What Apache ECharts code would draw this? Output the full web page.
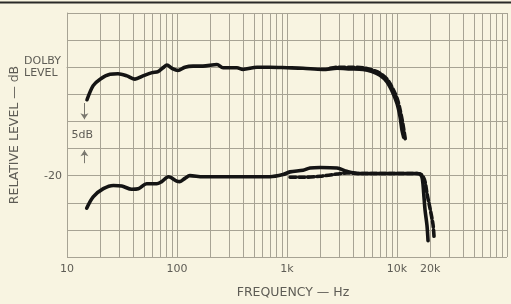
<!DOCTYPE html>
<html><head><meta charset="utf-8">
<script src="https://cdn.jsdelivr.net/npm/echarts@6/dist/echarts.min.js"></script>
<style>html,body{margin:0;padding:0;background:#f8f4e1;}#c{width:511px;height:304px;}</style>
</head><body><div id="c"></div>
<script>
// ---- data (frequency in Hz, level in dB relative to Dolby level) ----
const upperSolidFreq = [15.2,17.3,20,24.6,29.1,35.1,41.5,49.1,59.3,67.2,74.6,81.1,90.1,102,118,140,172,231,262,351,398,534,700,1000,1400,2120,2850,3740,4910,5930,7000,8110,9010,10000,10650,11100,11500];
const upperSolidDb   = [-6.0,-3.4,-2.2,-1.3,-1.2,-1.6,-2.2,-1.6,-1.0,-0.8,-0.1,0.4,-0.2,-0.6,0,0.2,0.2,0.5,-0.1,-0.1,-0.4,0,0,-0.1,-0.2,-0.4,-0.2,-0.3,-0.4,-0.8,-1.5,-2.7,-4.4,-6.7,-9.1,-11.6,-12.9];
const upperDashFreq  = [2460,2850,3740,4910,5930,7000,8110,9010,10000,10650,11340,11900];
const upperDashDb    = [-0.2,0,0,-0.1,-0.5,-1.1,-2.2,-3.7,-5.7,-7.8,-10.6,-13.3];
const lowerSolidFreq = [15.1,17.3,21.4,26.4,31.4,38.8,44.5,53,65.3,72.5,83.9,99.4,106,118,131,172,351,700,920,1065,1400,1620,2000,2850,3510,4610,9200,15200,16200,16870,17220,17600,17980,18740,19150];
const lowerSolidDb   = [-26.0,-23.9,-22.4,-21.8,-21.9,-22.5,-22.4,-21.5,-21.5,-21.1,-20.2,-21.0,-21.1,-20.5,-20.0,-20.2,-20.2,-20.2,-19.8,-19.3,-19.0,-18.6,-18.5,-18.6,-19.2,-19.6,-19.6,-19.6,-19.7,-20.3,-21.5,-24.0,-26.3,-29.2,-32.0];
const lowerDashFreq  = [1065,1400,2000,2850,3510,4610,9200,15200,16870,17980,18740,19950,21250,21700];
const lowerDashDb    = [-20.3,-20.3,-20.1,-19.7,-19.5,-19.6,-19.6,-19.6,-19.9,-21.1,-23.3,-26,-29,-31.2];

const xTickValues = [10,100,1000,10000,20000];
const xTickLabels = ['10','100','1k','10k','20k'];
const yTickValues = [0,-20];
const yTickLabels = ['{d|DOLBY}\n{d|LEVEL}','-20'];

const zip = (a,b) => a.map((v,i) => [v,b[i]]);

const GRID = '#a7a394';
const TXT = '#5e5c55';
const FONT = 'DejaVu Sans';

// minor log grid lines (2..9 in each decade)
const minorLines = [];
[10,100,1000,10000].forEach(d => { for (let k=2;k<=9;k++) minorLines.push({xAxis: d*k}); });

const chart = echarts.init(document.getElementById('c'), null, {renderer:'canvas'});
const curve = (name, data, dashed) => ({
  name, type:'line', data, showSymbol:false, smooth:0.3, z:5,
  lineStyle:{color:'#141414', width:3.6, type: dashed ? [6,3] : 'solid', cap:'round', join:'round'}
});
chart.setOption({
  backgroundColor:'#f8f4e1',
  animation:false,
  grid:{left:67, right:4, top:13, bottom:47, outerBoundsMode:'none', containLabel:false},
  xAxis:{
    type:'log', logBase:10, min:10, max:100000,
    name:'FREQUENCY — Hz', nameLocation:'middle', nameGap:29, nameMoveOverlap:false,
    nameTextStyle:{color:TXT, fontFamily:FONT, fontSize:12.5, padding:[0,0,0,12]},
    axisLine:{show:true, lineStyle:{color:GRID, width:1}},
    axisTick:{show:false},
    axisLabel:{show:false},
    splitLine:{show:true, lineStyle:{color:GRID, width:1}}
  },
  yAxis:{
    type:'value', min:-35, max:10, interval:5,
    name:'RELATIVE LEVEL — dB', nameLocation:'middle', nameRotate:90, nameGap:46, nameMoveOverlap:false,
    nameTextStyle:{color:TXT, fontFamily:FONT, fontSize:12.5, padding:[0,0,0,0]},
    axisLine:{show:true, lineStyle:{color:GRID, width:1}},
    axisTick:{show:false},
    axisLabel:{
      color:TXT, fontFamily:FONT, fontSize:11, margin:5,
      formatter: v => { const i = yTickValues.indexOf(v); return i<0 ? '' : yTickLabels[i]; },
      rich:{d:{width:38, align:'left', color:TXT, fontFamily:FONT, fontSize:11, lineHeight:12}}
    },
    splitLine:{show:true, lineStyle:{color:GRID, width:1}}
  },
  graphic:[{type:'line', shape:{x1:0,y1:2.5,x2:511,y2:2.5}, style:{stroke:'#2a2a28', lineWidth:2}}],
  series:[
    {
      name:'grid', type:'line', data:[[10,-35]], showSymbol:false, silent:true, z:1,
      lineStyle:{opacity:0},
      markLine:{
        silent:true, symbol:['none','none'], animation:false,
        label:{show:false},
        lineStyle:{color:GRID, width:1, type:'solid'},
        data: minorLines
      }
    },
    {
      name:'ticks', type:'line', data:[[10,-35]], showSymbol:false, silent:true, z:1,
      lineStyle:{opacity:0},
      markLine:{
        silent:true, symbol:['none','none'], animation:false,
        lineStyle:{color:'rgba(0,0,0,0)', width:0},
        label:{show:true, position:'start', distance:7, color:TXT, fontFamily:FONT, fontSize:11},
        data: xTickValues.map((v,i) => ({xAxis:v, label:{formatter:xTickLabels[i]}}))
      }
    },
    {
      name:'anno', type:'line', data:[[10,-35]], showSymbol:false, silent:true, z:2,
      lineStyle:{opacity:0},
      markLine:{
        silent:true, symbol:['none','arrow'], symbolSize:6, animation:false,
        label:{show:false},
        itemStyle:{color:'#7a786f'},
        lineStyle:{color:'#7a786f', width:1, type:'solid'},
        data:[
          [{coord:[14.4,-6.6]},{coord:[14.4,-9.6]}],
          [{coord:[14.4,-17.7]},{coord:[14.4,-15.3]}]
        ]
      },
      markPoint:{
        silent:true, symbol:'rect', symbolSize:1, itemStyle:{color:'rgba(0,0,0,0)'},
        label:{show:true, position:'inside', formatter:'5dB', color:TXT, fontFamily:FONT, fontSize:11},
        data:[{coord:[13.8,-12.5]}]
      }
    },
    curve('upperSolid', zip(upperSolidFreq, upperSolidDb), false),
    curve('upperDash', zip(upperDashFreq, upperDashDb), true),
    curve('lowerSolid', zip(lowerSolidFreq, lowerSolidDb), false),
    curve('lowerDash', zip(lowerDashFreq, lowerDashDb), true)
  ]
});
</script></body></html>
